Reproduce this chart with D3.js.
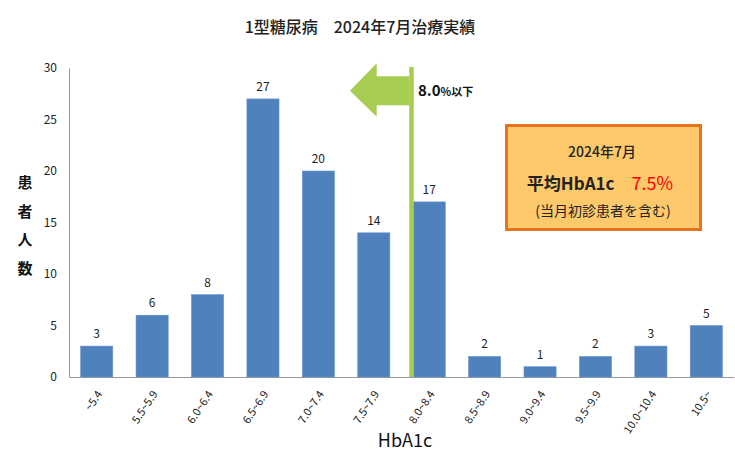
<!DOCTYPE html>
<html><head><meta charset="utf-8">
<script src="https://cdn.jsdelivr.net/npm/d3@7"></script>
<style>
body{margin:0;background:#fff;}
text{font-family:"Noto Sans CJK JP","Noto Sans",sans-serif;}
</style></head>
<body><svg id="c" width="735" height="459"></svg>
<script>
const categories = ["~5.4","5.5~5.9","6.0~6.4","6.5~6.9","7.0~7.4","7.5~7.9","8.0~8.4","8.5~8.9","9.0~9.4","9.5~9.9","10.0~10.4","10.5~"];
const patients = [3,6,8,27,20,14,17,2,1,2,3,5];
const yTicks = [0,5,10,15,20,25,30];
const title = "1型糖尿病　2024年7月治療実績";
const thresholdCategory = "8.0~8.4";

const svg = d3.select("#c");
const x = d3.scaleBand().domain(categories).range([69,734]).paddingInner(0.42).paddingOuter(0.21);
const y = d3.scaleLinear().domain([0,30]).range([377,68]);

// title
svg.append("text").attr("x",360).attr("y",33).attr("text-anchor","middle")
  .attr("font-size",16).attr("font-weight",500).attr("fill","#222").text(title);

// axes
const yAxis = svg.append("g").attr("transform","translate(69,0)")
  .call(d3.axisLeft(y).tickValues(yTicks).tickSize(0).tickPadding(12));
yAxis.select(".domain").attr("stroke","#999");
yAxis.selectAll("text").attr("font-size",12).attr("fill","#222");

const xAxis = svg.append("g").attr("transform","translate(0,377)")
  .call(d3.axisBottom(x).tickSize(0).tickSizeOuter(0).tickPadding(0));
xAxis.select(".domain").attr("stroke","#999");
xAxis.selectAll("text").attr("font-size",11).attr("fill","#222")
  .attr("text-anchor","end").attr("dy",0)
  .attr("transform","translate(6,17) rotate(-56)");

// bars
svg.append("g").selectAll("rect").data(patients).join("rect")
  .attr("x",(d,i)=>x(categories[i])).attr("width",x.bandwidth())
  .attr("y",d=>y(d)).attr("height",d=>y(0)-y(d))
  .attr("fill","#4f81bd").attr("stroke","#6a95c9").attr("stroke-width",0.6);

svg.append("g").selectAll("text").data(patients).join("text")
  .attr("x",(d,i)=>x(categories[i])+x.bandwidth()/2).attr("y",d=>y(d)-8)
  .attr("text-anchor","middle").attr("font-size",12).attr("fill","#222").text(d=>d);

// threshold line & arrow
const lx = x(thresholdCategory) - (x.step()-x.bandwidth())/2 + 10;
svg.append("line").attr("x1",lx).attr("x2",lx).attr("y1",y(30)-1).attr("y2",y(0))
  .attr("stroke","#a6cc52").attr("stroke-width",4.5);
const ay = 90.7;
svg.append("path")
  .attr("d",`M${lx-2},${ay-14.5} L376.7,${ay-14.5} L376.7,63.3 L350,${ay} L376.7,116.7 L376.7,${ay+14.5} L${lx-2},${ay+14.5} Z`)
  .attr("fill","#a6cc52");
const lt = svg.append("text").attr("x",418).attr("y",96).attr("fill","#111").attr("font-weight",700);
lt.append("tspan").attr("font-size",15).text("8.0");
lt.append("tspan").attr("font-size",11).text("%以下");

// y axis title
["患","者","人","数"].forEach((c,i)=>{
  svg.append("text").attr("x",25).attr("y",188+i*28.7).attr("text-anchor","middle")
    .attr("font-size",15).attr("font-weight",700).attr("fill","#111").text(c);
});

// x axis title
svg.append("text").attr("x",405).attr("y",447).attr("text-anchor","middle")
  .attr("font-size",18).attr("fill","#111").text("HbA1c");

// info box
svg.append("rect").attr("x",506.5).attr("y",125.5).attr("width",194).attr("height",104)
  .attr("fill","#fec96b").attr("stroke","#e8731e").attr("stroke-width",3);
svg.append("text").attr("x",602).attr("y",157).attr("text-anchor","middle")
  .attr("font-size",14).attr("font-weight",500).attr("fill","#222").text("2024年7月");
const avg = svg.append("text").attr("x",600).attr("y",190).attr("text-anchor","middle").attr("font-size",17);
avg.append("tspan").attr("font-weight",700).attr("fill","#222").text("平均HbA1c　");
avg.append("tspan").attr("fill","#ff0000").attr("font-size",18).text("7.5%");
svg.append("text").attr("x",603).attr("y",216).attr("text-anchor","middle")
  .attr("font-size",14).attr("fill","#222").text("(当月初診患者を含む)");
</script></body></html>
